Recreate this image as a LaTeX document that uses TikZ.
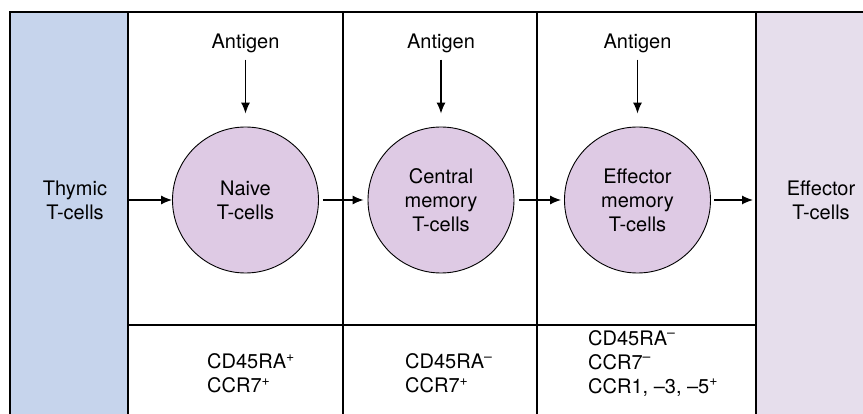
\documentclass[tikz,border=0pt]{standalone}
\usepackage{fontspec}
\setmainfont{TeX Gyre Heros}
\usetikzlibrary{arrows.meta}
\definecolor{thyblue}{RGB}{198,212,236}
\definecolor{cellpurple}{RGB}{222,202,228}
\definecolor{effpurple}{RGB}{230,222,236}
\begin{document}
\begin{tikzpicture}[x=1pt,y=-1pt,
  every node/.style={font=\fontsize{20}{24}\selectfont, inner sep=0pt},
  frameline/.style={line width=1.1pt},
  cell/.style={circle, draw, line width=0.9pt, fill=cellpurple, minimum size=146pt, align=center},
  arr/.style={-{Latex[length=11pt,width=9pt]}, line width=1.2pt},
  marker/.style={align=left, anchor=west}]
\useasboundingbox (0,0) rectangle (863,414);
% columns
\node[fill=thyblue, draw=none, minimum width=118pt, minimum height=402pt, anchor=north west] (thycol) at (10,12) {};
\node[fill=effpurple, draw=none, minimum width=107pt, minimum height=402pt, anchor=north west] (effcol) at (756,12) {};
% grid lines
\draw[frameline] (10,414) -- (10,12) -- (863,12);
\draw[frameline] (128,12) -- (128,414);
\draw[frameline] (343,12) -- (343,414);
\draw[frameline] (537,12) -- (537,414);
\draw[frameline] (756,12) -- (756,414);
\draw[frameline] (128,325) -- (756,325);
% labels of columns
\node[align=center] (thytext) at (75,200) {Thymic\\T-cells};
\node[align=center] (efftext) at (821,200) {Effector\\T-cells};
% cells
\node[cell] (naive) at (245.5,200) {Naive\\T-cells};
\node[cell] (central) at (441,200) {Central\\memory\\T-cells};
\node[cell] (effmem) at (637.5,200) {Effector\\memory\\T-cells};
% antigens
\node (ant1) at (245.5,43) {Antigen};
\node (ant2) at (441,43) {Antigen};
\node (ant3) at (637.5,43) {Antigen};
\draw[arr, shorten <=7pt, shorten >=13pt] (ant1.south) -- (naive.north);
\draw[arr, shorten <=7pt, shorten >=13pt] (ant2.south) -- (central.north);
\draw[arr, shorten <=7pt, shorten >=13pt] (ant3.south) -- (effmem.north);
% horizontal arrows
\draw[arr] (thycol.east |- naive) -- (naive.west);
\draw[arr, shorten <=4pt, shorten >=4pt] (naive.east) -- (central.west);
\draw[arr, shorten <=5pt, shorten >=3pt] (central.east) -- (effmem.west);
\draw[arr, shorten <=3pt, shorten >=3pt] (effmem.east) -- (effcol.west |- effmem);
% markers
\node[marker] (m1) at (207,373.5) {CD45RA\textsuperscript{+}\\CCR7\textsuperscript{+}};
\node[marker] (m2) at (405,373.5) {CD45RA\textsuperscript{–}\\CCR7\textsuperscript{+}};
\node[marker] (m3) at (588,363.5) {CD45RA\textsuperscript{–}\\CCR7\textsuperscript{–}\\CCR1, –3, –5\textsuperscript{+}};
\end{tikzpicture}
\end{document}
